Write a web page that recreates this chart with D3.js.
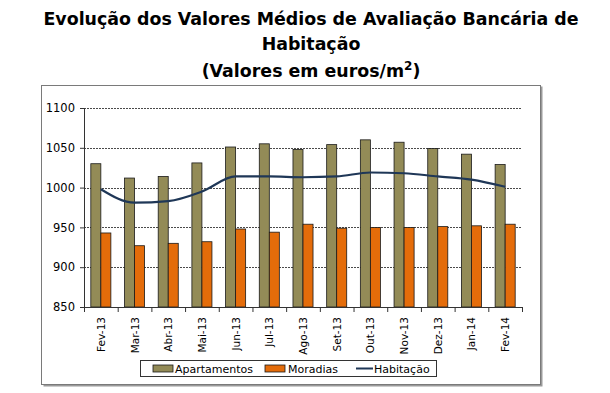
<!DOCTYPE html>
<html>
<head>
<meta charset="utf-8">
<script src="https://cdn.jsdelivr.net/npm/d3@7"></script>
<style>
  body { margin: 0; background: #fff; }
  text { font-family: "DejaVu Sans", Verdana, sans-serif; fill: #000; }
</style>
</head>
<body>
<div id="chart"></div>
<script>
var months = ["Fev-13", "Mar-13", "Abr-13", "Mai-13", "Jun-13", "Jul-13", "Ago-13",
              "Set-13", "Out-13", "Nov-13", "Dez-13", "Jan-14", "Fev-14"];
var apartamentos = [1030, 1012, 1014, 1031, 1051, 1055, 1048, 1054, 1060, 1057, 1049, 1042, 1029];
var moradias = [943, 927, 930, 932, 948, 944, 954, 949, 950, 950, 951, 952, 954];
var habitacao = [998, 981, 983, 995, 1014, 1014, 1013, 1014, 1019, 1018, 1014, 1010, 1001];
var yTicks = [850, 900, 950, 1000, 1050, 1100];
var seriesNames = ["Apartamentos", "Moradias", "Habitação"];

var width = 610, height = 393,
    margin = {top: 108, right: 88, bottom: 86, left: 84};
var colors = {Apartamentos: "#938b57", Moradias: "#e46c0a", "Habitação": "#1f3757"};

var svg = d3.select("#chart").append("svg")
    .attr("width", width)
    .attr("height", height);

// titulo
var title = svg.append("text")
    .attr("text-anchor", "middle")
    .style("font-weight", "bold")
    .style("font-size", "17.4px");
title.append("tspan").attr("x", 311).attr("y", 25).text("Evolução dos Valores Médios de Avaliação Bancária de");
title.append("tspan").attr("x", 311).attr("y", 50).text("Habitação");
title.append("tspan").attr("x", 311).attr("y", 77).text("(Valores em euros/m");
title.append("tspan").attr("dy", -7).style("font-size", "12px").text("2");
title.append("tspan").attr("dy", 7).text(")");

// moldura com sombra
svg.append("rect").attr("x", 43.5).attr("y", 86.5).attr("width", 499).attr("height", 300)
    .attr("fill", "#9a9a9a");
svg.append("rect").attr("x", 41.5).attr("y", 85.5).attr("width", 499).attr("height", 299)
    .attr("fill", "#fff").attr("stroke", "#7a7a7a");

var g = svg.append("g").attr("transform", `translate(${margin.left},${margin.top})`);
var w = width - margin.left - margin.right,
    h = 307 - margin.top;

var x0 = d3.scaleBand().domain(months).range([0, w]).padding(0);
var x1 = d3.scaleBand().domain(["Apartamentos", "Moradias"]).range([0, x0.bandwidth()])
    .paddingInner(0).paddingOuter(0.68);
var y = d3.scaleLinear().domain([850, 1100]).range([h, 0]);

// grelha tracejada
g.selectAll(".grid").data(yTicks.filter(d => d > 850)).enter().append("line")
    .attr("x1", 0).attr("x2", w)
    .attr("y1", d => Math.round(y(d)) + 0.5).attr("y2", d => Math.round(y(d)) + 0.5)
    .attr("stroke", "#4a4a4a").attr("stroke-dasharray", "2,1");

// barras
var rows = months.map((m, i) => ({month: m, Apartamentos: apartamentos[i], Moradias: moradias[i]}));
var grp = g.selectAll(".mes").data(rows).enter().append("g")
    .attr("transform", d => `translate(${x0(d.month)},0)`);
grp.selectAll("rect").data(d => ["Apartamentos", "Moradias"].map(k => ({key: k, value: d[k]})))
  .enter().append("rect")
    .attr("x", d => x1(d.key))
    .attr("y", d => y(d.value))
    .attr("width", x1.bandwidth())
    .attr("height", d => h - y(d.value))
    .attr("fill", d => colors[d.key])
    .attr("stroke", "#1a1a1a").attr("stroke-width", 0.8);

// linha
var line = d3.line()
    .x((d, i) => x0(months[i]) + x0.bandwidth() / 2)
    .y(d => y(d))
    .curve(d3.curveMonotoneX);
g.append("path").datum(habitacao)
    .attr("d", line)
    .attr("fill", "none")
    .attr("stroke", colors["Habitação"])
    .attr("stroke-width", 2.2);

// eixo Y
var yAxis = d3.axisLeft(y).tickValues(yTicks).tickFormat(d3.format("d")).tickSize(4).tickPadding(5);
var ya = g.append("g").call(yAxis);
ya.select(".domain").attr("stroke", "#333");
ya.selectAll(".tick line").attr("stroke", "#333");
ya.selectAll("text").style("font-size", "11.5px").attr("fill", "#000");

// eixo X
var xa = g.append("g").attr("transform", `translate(0,${h})`);
xa.append("line").attr("x1", 0).attr("x2", w).attr("y1", 0.5).attr("y2", 0.5).attr("stroke", "#333");
xa.selectAll(".xt").data(months.concat(["end"])).enter().append("line")
    .attr("x1", (d, i) => i * x0.step() + 0.5).attr("x2", (d, i) => i * x0.step() + 0.5)
    .attr("y1", 0).attr("y2", 5).attr("stroke", "#333");
xa.selectAll(".xl").data(months).enter().append("text")
    .attr("transform", d => `translate(${x0(d) + x0.bandwidth() / 2 + 4},10) rotate(-90)`)
    .attr("text-anchor", "end")
    .style("font-size", "10.5px")
    .text(d => d);

// legenda
var lg = svg.append("g").attr("transform", "translate(140,360)");
lg.append("rect").attr("x", 0.5).attr("y", 0.5).attr("width", 296).attr("height", 16)
    .attr("fill", "#fff").attr("stroke", "#333");
var legItems = [
  {name: seriesNames[0], x: 13, tx: 35},
  {name: seriesNames[1], x: 125, tx: 148},
  {name: seriesNames[2], x: 216, tx: 234}
];
legItems.forEach(function(it, i) {
  if (i < 2) {
    lg.append("rect").attr("x", it.x).attr("y", 5).attr("width", 20).attr("height", 7)
      .attr("fill", colors[it.name]).attr("stroke", "#1a1a1a").attr("stroke-width", 0.8);
  } else {
    lg.append("line").attr("x1", it.x).attr("x2", it.x + 17).attr("y1", 8.5).attr("y2", 8.5)
      .attr("stroke", colors[it.name]).attr("stroke-width", 2);
  }
  lg.append("text").attr("x", it.tx).attr("y", 13).style("font-size", "11px").text(it.name);
});
</script>
</body>
</html>
